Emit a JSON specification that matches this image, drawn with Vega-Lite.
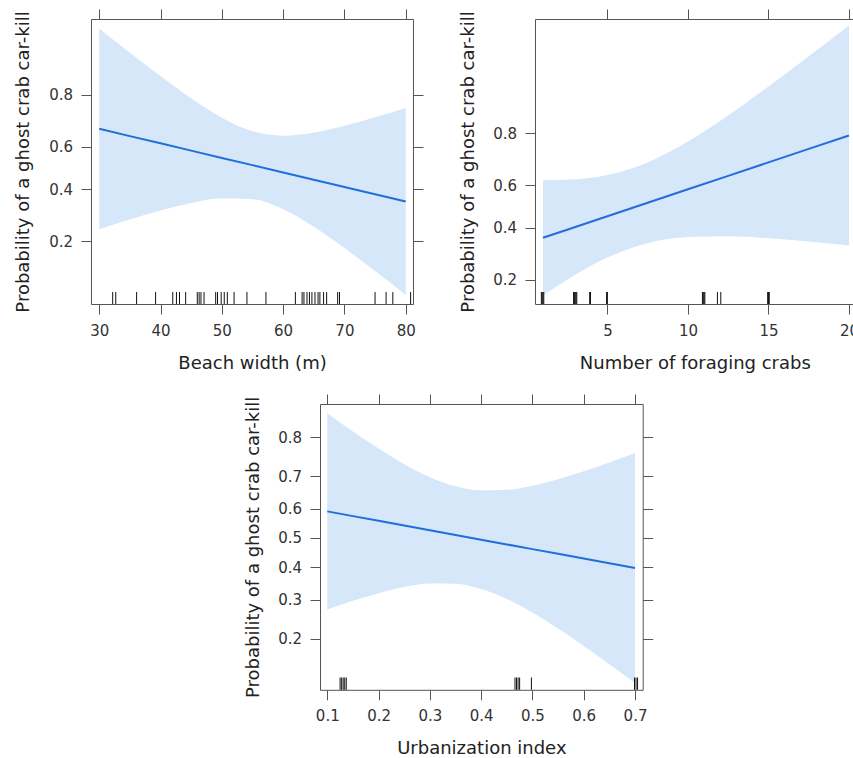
{
  "$schema": "https://vega.github.io/schema/vega-lite/v6.json",
  "padding": 0,
  "spacing": 0,
  "config": {
    "view": {"stroke": null},
    "axis": {
      "grid": false,
      "domainColor": "#555",
      "domainWidth": 1,
      "tickColor": "#555",
      "tickSize": 10,
      "tickWidth": 1,
      "labelFont": "DejaVu Sans",
      "labelFontSize": 15,
      "labelColor": "#333",
      "titleFont": "DejaVu Sans",
      "titleFontSize": 18,
      "titleFontWeight": "normal",
      "titleColor": "#222",
      "labelFlush": false,
      "zindex": 1
    }
  },
  "datasets": {
    "beach": [
      {"beach_width": 30, "fit_logit": 0.742, "lower_logit": -1.158, "upper_logit": 2.642},
      {"beach_width": 35, "fit_logit": 0.604, "lower_logit": -0.977, "upper_logit": 2.185},
      {"beach_width": 40, "fit_logit": 0.467, "lower_logit": -0.807, "upper_logit": 1.741},
      {"beach_width": 45, "fit_logit": 0.329, "lower_logit": -0.662, "upper_logit": 1.320},
      {"beach_width": 50, "fit_logit": 0.191, "lower_logit": -0.571, "upper_logit": 0.953},
      {"beach_width": 55, "fit_logit": 0.054, "lower_logit": -0.590, "upper_logit": 0.698},
      {"beach_width": 60, "fit_logit": -0.084, "lower_logit": -0.781, "upper_logit": 0.613},
      {"beach_width": 65, "fit_logit": -0.222, "lower_logit": -1.113, "upper_logit": 0.669},
      {"beach_width": 70, "fit_logit": -0.359, "lower_logit": -1.516, "upper_logit": 0.798},
      {"beach_width": 75, "fit_logit": -0.497, "lower_logit": -1.953, "upper_logit": 0.959},
      {"beach_width": 80, "fit_logit": -0.634, "lower_logit": -2.405, "upper_logit": 1.137}
    ],
    "beach_rug": [
      {"beach_width": 32.2}, {"beach_width": 32.7}, {"beach_width": 36.1}, {"beach_width": 39.2},
      {"beach_width": 42.0}, {"beach_width": 42.6}, {"beach_width": 43.1}, {"beach_width": 44.1},
      {"beach_width": 46.0}, {"beach_width": 46.3}, {"beach_width": 46.6}, {"beach_width": 47.1},
      {"beach_width": 49.0}, {"beach_width": 49.3}, {"beach_width": 49.9}, {"beach_width": 50.4},
      {"beach_width": 50.9}, {"beach_width": 52.0}, {"beach_width": 54.1}, {"beach_width": 57.2},
      {"beach_width": 62.0}, {"beach_width": 63.1}, {"beach_width": 63.4}, {"beach_width": 63.9},
      {"beach_width": 64.3}, {"beach_width": 64.7}, {"beach_width": 65.2}, {"beach_width": 65.7},
      {"beach_width": 66.0}, {"beach_width": 66.6}, {"beach_width": 67.1}, {"beach_width": 68.9},
      {"beach_width": 69.2}, {"beach_width": 75.0}, {"beach_width": 76.8}, {"beach_width": 77.9},
      {"beach_width": 80.8}
    ],
    "crabs": [
      {"foraging_crabs": 1, "fit_logit": -0.592, "lower_logit": -1.682, "upper_logit": 0.498},
      {"foraging_crabs": 2.5, "fit_logit": -0.439, "lower_logit": -1.384, "upper_logit": 0.506},
      {"foraging_crabs": 5, "fit_logit": -0.185, "lower_logit": -0.966, "upper_logit": 0.596},
      {"foraging_crabs": 7.5, "fit_logit": 0.070, "lower_logit": -0.694, "upper_logit": 0.834},
      {"foraging_crabs": 10, "fit_logit": 0.325, "lower_logit": -0.579, "upper_logit": 1.229},
      {"foraging_crabs": 12.5, "fit_logit": 0.580, "lower_logit": -0.563, "upper_logit": 1.723},
      {"foraging_crabs": 15, "fit_logit": 0.834, "lower_logit": -0.601, "upper_logit": 2.269},
      {"foraging_crabs": 17.5, "fit_logit": 1.089, "lower_logit": -0.662, "upper_logit": 2.840},
      {"foraging_crabs": 20, "fit_logit": 1.343, "lower_logit": -0.739, "upper_logit": 3.425}
    ],
    "crabs_rug": [
      {"foraging_crabs": 0.9}, {"foraging_crabs": 0.95}, {"foraging_crabs": 1.0}, {"foraging_crabs": 1.05},
      {"foraging_crabs": 2.9}, {"foraging_crabs": 2.95}, {"foraging_crabs": 3.0}, {"foraging_crabs": 3.05}, {"foraging_crabs": 3.1},
      {"foraging_crabs": 3.9}, {"foraging_crabs": 3.95},
      {"foraging_crabs": 4.95}, {"foraging_crabs": 5.0},
      {"foraging_crabs": 10.9}, {"foraging_crabs": 10.95}, {"foraging_crabs": 11.0}, {"foraging_crabs": 11.05},
      {"foraging_crabs": 11.83}, {"foraging_crabs": 12.04},
      {"foraging_crabs": 14.95}, {"foraging_crabs": 15.0}, {"foraging_crabs": 15.05}
    ],
    "urban": [
      {"urbanization": 0.10, "fit_logit": 0.366, "lower_logit": -0.984, "upper_logit": 1.716},
      {"urbanization": 0.15, "fit_logit": 0.301, "lower_logit": -0.864, "upper_logit": 1.466},
      {"urbanization": 0.20, "fit_logit": 0.236, "lower_logit": -0.759, "upper_logit": 1.231},
      {"urbanization": 0.25, "fit_logit": 0.171, "lower_logit": -0.674, "upper_logit": 1.016},
      {"urbanization": 0.30, "fit_logit": 0.106, "lower_logit": -0.625, "upper_logit": 0.837},
      {"urbanization": 0.35, "fit_logit": 0.042, "lower_logit": -0.628, "upper_logit": 0.712},
      {"urbanization": 0.40, "fit_logit": -0.023, "lower_logit": -0.701, "upper_logit": 0.655},
      {"urbanization": 0.45, "fit_logit": -0.088, "lower_logit": -0.838, "upper_logit": 0.662},
      {"urbanization": 0.50, "fit_logit": -0.153, "lower_logit": -1.026, "upper_logit": 0.720},
      {"urbanization": 0.55, "fit_logit": -0.218, "lower_logit": -1.245, "upper_logit": 0.809},
      {"urbanization": 0.60, "fit_logit": -0.283, "lower_logit": -1.484, "upper_logit": 0.918},
      {"urbanization": 0.65, "fit_logit": -0.348, "lower_logit": -1.736, "upper_logit": 1.040},
      {"urbanization": 0.70, "fit_logit": -0.413, "lower_logit": -1.995, "upper_logit": 1.169}
    ],
    "urban_rug": [
      {"urbanization": 0.125}, {"urbanization": 0.128}, {"urbanization": 0.131}, {"urbanization": 0.134}, {"urbanization": 0.137},
      {"urbanization": 0.466}, {"urbanization": 0.469}, {"urbanization": 0.472}, {"urbanization": 0.475},
      {"urbanization": 0.498},
      {"urbanization": 0.699}, {"urbanization": 0.702}, {"urbanization": 0.705}
    ]
  },
  "vconcat": [
    {
      "spacing": 0,
      "hconcat": [
        {
          "width": 322,
          "height": 285,
          "data": {"name": "beach"},
          "resolve": {"axis": {"x": "independent", "y": "independent"}},
          "layer": [
            {
              "mark": {"type": "area", "color": "#d6e7fa", "interpolate": "monotone"},
              "encoding": {
                "x": {"field": "beach_width", "type": "quantitative",
                  "scale": {"domain": [28.66, 81.19], "nice": false, "zero": false},
                  "axis": {"orient": "bottom", "values": [30, 40, 50, 60, 70, 80], "title": "Beach width (m)",
                    "titleY": 64, "titleBaseline": "alphabetic", "labelBaseline": "alphabetic", "labelPadding": 21,
                    "minExtent": 75, "maxExtent": 75}},
                "y": {"field": "lower_logit", "type": "quantitative",
                  "scale": {"domain": [-2.576, 2.822], "nice": false, "zero": false},
                  "axis": {"orient": "left", "values": [-1.386294, -0.405465, 0.405465, 1.386294],
                    "labelExpr": "format(1/(1+exp(-datum.value)), '.1f')", "labelPadding": 8.5,
                    "title": "Probability of a ghost crab car-kill", "titleX": -63, "titleAngle": 270,
                    "titleBaseline": "alphabetic", "titleAlign": "center", "minExtent": 91, "maxExtent": 91}},
                "y2": {"field": "upper_logit"}
              }
            },
            {
              "mark": {"type": "line", "color": "#1f6fd8", "strokeWidth": 2},
              "encoding": {
                "x": {"field": "beach_width", "type": "quantitative",
                  "scale": {"domain": [28.66, 81.19], "nice": false, "zero": false},
                  "axis": {"orient": "top", "values": [30, 40, 50, 60, 70, 80], "labels": false, "title": null,
                    "minExtent": 18.5, "maxExtent": 18.5}},
                "y": {"field": "fit_logit", "type": "quantitative",
                  "scale": {"domain": [-2.576, 2.822], "nice": false, "zero": false},
                  "axis": {"orient": "right", "values": [-1.386294, -0.405465, 0.405465, 1.386294], "labels": false,
                    "title": null, "minExtent": 10, "maxExtent": 10}}
              }
            },
            {
              "data": {"name": "beach_rug"},
              "mark": {"type": "rule", "color": "#111", "strokeWidth": 1},
              "encoding": {
                "x": {"field": "beach_width", "type": "quantitative", "axis": null},
                "y": {"datum": -2.576, "type": "quantitative", "axis": null},
                "y2": {"datum": -2.35}
              }
            }
          ]
        },
        {
          "width": 319.7,
          "height": 285,
          "data": {"name": "crabs"},
          "resolve": {"axis": {"x": "independent", "y": "independent"}},
          "layer": [
            {
              "mark": {"type": "area", "color": "#d6e7fa", "interpolate": "monotone"},
              "encoding": {
                "x": {"field": "foraging_crabs", "type": "quantitative",
                  "scale": {"domain": [0.505, 20.354], "nice": false, "zero": false},
                  "axis": {"orient": "bottom", "values": [5, 10, 15, 20], "title": "Number of foraging crabs",
                    "titleY": 64, "titleBaseline": "alphabetic", "labelBaseline": "alphabetic", "labelPadding": 21,
                    "minExtent": 75, "maxExtent": 75}},
                "y": {"field": "lower_logit", "type": "quantitative",
                  "scale": {"domain": [-1.844, 3.546], "nice": false, "zero": false},
                  "axis": {"orient": "left", "values": [-1.386294, -0.405465, 0.405465, 1.386294],
                    "labelExpr": "format(1/(1+exp(-datum.value)), '.1f')", "labelPadding": 8.5,
                    "title": "Probability of a ghost crab car-kill", "titleX": -62, "titleAngle": 270,
                    "titleBaseline": "alphabetic", "titleAlign": "center", "minExtent": 110.3, "maxExtent": 110.3}},
                "y2": {"field": "upper_logit"}
              }
            },
            {
              "mark": {"type": "line", "color": "#1f6fd8", "strokeWidth": 2},
              "encoding": {
                "x": {"field": "foraging_crabs", "type": "quantitative",
                  "scale": {"domain": [0.505, 20.354], "nice": false, "zero": false},
                  "axis": {"orient": "top", "values": [5, 10, 15, 20], "labels": false, "title": null,
                    "minExtent": 18.5, "maxExtent": 18.5}},
                "y": {"field": "fit_logit", "type": "quantitative",
                  "scale": {"domain": [-1.844, 3.546], "nice": false, "zero": false},
                  "axis": null}
              }
            },
            {
              "data": {"name": "crabs_rug"},
              "mark": {"type": "rule", "color": "#111", "strokeWidth": 1},
              "encoding": {
                "x": {"field": "foraging_crabs", "type": "quantitative", "axis": null},
                "y": {"datum": -1.844, "type": "quantitative", "axis": null},
                "y2": {"datum": -1.617}
              }
            }
          ]
        }
      ]
    },
    {
      "spacing": 0,
      "hconcat": [
        {
          "width": 138,
          "height": 10,
          "data": {"values": []},
          "mark": {"type": "point"},
          "encoding": {}
        },
        {
          "width": 322.7,
          "height": 285.8,
          "data": {"name": "urban"},
          "resolve": {"axis": {"x": "independent", "y": "independent"}},
          "layer": [
            {
              "mark": {"type": "area", "color": "#d6e7fa", "interpolate": "monotone"},
              "encoding": {
                "x": {"field": "urbanization", "type": "quantitative",
                  "scale": {"domain": [0.0858, 0.715], "nice": false, "zero": false},
                  "axis": {"orient": "bottom", "values": [0.1, 0.2, 0.3, 0.4, 0.5, 0.6, 0.7], "format": ".1f",
                    "title": "Urbanization index",
                    "titleY": 64, "titleBaseline": "alphabetic", "labelBaseline": "alphabetic", "labelPadding": 21,
                    "minExtent": 68, "maxExtent": 68}},
                "y": {"field": "lower_logit", "type": "quantitative",
                  "scale": {"domain": [-2.088, 1.843], "nice": false, "zero": false},
                  "axis": {"orient": "left", "values": [-1.386294, -0.847298, -0.405465, 0, 0.405465, 0.847298, 1.386294],
                    "labelExpr": "format(1/(1+exp(-datum.value)), '.1f')", "labelPadding": 8.5,
                    "title": "Probability of a ghost crab car-kill", "titleX": -62, "titleAngle": 270,
                    "titleBaseline": "alphabetic", "titleAlign": "center", "minExtent": 91, "maxExtent": 91}},
                "y2": {"field": "upper_logit"}
              }
            },
            {
              "mark": {"type": "line", "color": "#1f6fd8", "strokeWidth": 2},
              "encoding": {
                "x": {"field": "urbanization", "type": "quantitative",
                  "scale": {"domain": [0.0858, 0.715], "nice": false, "zero": false},
                  "axis": {"orient": "top", "values": [0.1, 0.2, 0.3, 0.4, 0.5, 0.6, 0.7], "labels": false, "title": null,
                    "minExtent": 25, "maxExtent": 25}},
                "y": {"field": "fit_logit", "type": "quantitative",
                  "scale": {"domain": [-2.088, 1.843], "nice": false, "zero": false},
                  "axis": {"orient": "right", "values": [-1.386294, -0.847298, -0.405465, 0, 0.405465, 0.847298, 1.386294],
                    "labels": false, "title": null, "minExtent": 10, "maxExtent": 10}}
              }
            },
            {
              "data": {"name": "urban_rug"},
              "mark": {"type": "rule", "color": "#111", "strokeWidth": 1},
              "encoding": {
                "x": {"field": "urbanization", "type": "quantitative", "axis": null},
                "y": {"datum": -2.088, "type": "quantitative", "axis": null},
                "y2": {"datum": -1.919}
              }
            }
          ]
        }
      ]
    }
  ]
}
